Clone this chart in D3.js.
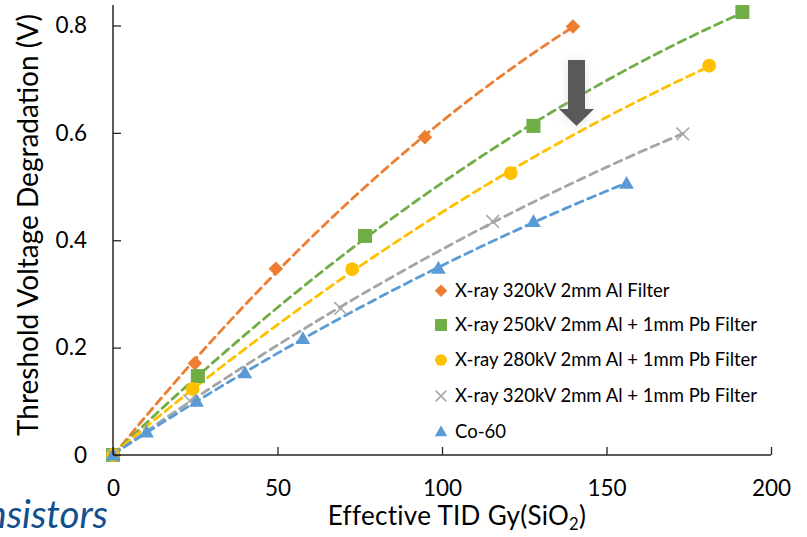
<!DOCTYPE html>
<html>
<head>
<meta charset="utf-8">
<script src="https://cdn.jsdelivr.net/npm/d3@7"></script>
<style>
  html, body { margin: 0; padding: 0; background: #fff; }
  svg { display: block; }
  text { font-family: Lato, "Open Sans", sans-serif; fill: #000; }
</style>
</head>
<body>
<svg id="chart" width="807" height="537"></svg>
<script>
// ---------- data ----------
const seriesNames = [
  "X-ray 320kV 2mm Al Filter",
  "X-ray 250kV 2mm Al + 1mm Pb Filter",
  "X-ray 280kV 2mm Al + 1mm Pb Filter",
  "X-ray 320kV 2mm Al + 1mm Pb Filter",
  "Co-60"
];
const seriesColors = ["#ED7D31", "#70AD47", "#FFC000", "#A5A5A5", "#5B9BD5"];
const seriesMarkers = ["diamond", "square", "circle", "cross", "triangle"];

const doseAl320   = [0, 24.9, 49.5, 94.8, 139.8];
const vthAl320    = [0, 0.171, 0.347, 0.592, 0.798];
const dosePb250   = [0, 25.8, 76.6, 127.8, 191.3];
const vthPb250    = [0, 0.147, 0.408, 0.613, 0.825];
const dosePb280   = [0, 24.2, 72.7, 120.9, 181.2];
const vthPb280    = [0, 0.123, 0.346, 0.525, 0.725];
const dosePb320   = [0, 23.3, 69.2, 115.4, 173.2];
const vthPb320    = [0, 0.101, 0.273, 0.435, 0.598];
const doseCo60    = [0, 10.2, 25.4, 40.1, 57.7, 98.9, 127.8, 156.1];
const vthCo60     = [0, 0.043, 0.100, 0.153, 0.217, 0.348, 0.435, 0.506];

const xTicks = [0, 50, 100, 150, 200];
const yTicks = [0, 0.2, 0.4, 0.6, 0.8];
const xTitle = "Effective TID Gy(SiO";
const yTitle = "Threshold Voltage Degradation (V)";
const cornerText = "Transistors";

const seriesDose = [doseAl320, dosePb250, dosePb280, dosePb320, doseCo60];
const seriesVth  = [vthAl320, vthPb250, vthPb280, vthPb320, vthCo60];

// ---------- scales ----------
const svg = d3.select("#chart");
const x = d3.scaleLinear().domain([0, 200]).range([113, 771]);
const y = d3.scaleLinear().domain([0, 0.84]).range([455, 4]);

// ---------- quadratic trendline (least squares, like Excel poly-2) ----------
function polyFit2(xs, ys) {
  let n = xs.length, s = [0,0,0,0,0], t = [0,0,0];
  for (let i = 0; i < n; i++) {
    let p = 1;
    for (let k = 0; k < 5; k++) { s[k] += p; if (k < 3) t[k] += p * ys[i]; p *= xs[i]; }
  }
  const A = [[s[0], s[1], s[2], t[0]], [s[1], s[2], s[3], t[1]], [s[2], s[3], s[4], t[2]]];
  for (let i = 0; i < 3; i++) {
    let m = i;
    for (let r = i + 1; r < 3; r++) if (Math.abs(A[r][i]) > Math.abs(A[m][i])) m = r;
    [A[i], A[m]] = [A[m], A[i]];
    for (let r = 0; r < 3; r++) if (r !== i) {
      const f = A[r][i] / A[i][i];
      for (let c = i; c < 4; c++) A[r][c] -= f * A[i][c];
    }
  }
  return [A[0][3] / A[0][0], A[1][3] / A[1][1], A[2][3] / A[2][2]];
}

// ---------- arrow shadow filter ----------
const defs = svg.append("defs");
const f = defs.append("filter").attr("id", "glow").attr("x", "-60%").attr("y", "-40%").attr("width", "220%").attr("height", "180%");
f.append("feGaussianBlur").attr("stdDeviation", 5);

// ---------- trendlines ----------
const lineGen = d3.line().x(d => x(d[0])).y(d => y(d[1]));
seriesDose.forEach((xs, si) => {
  const c = polyFit2(xs, seriesVth[si]);
  const xmax = d3.max(xs);
  const pts = d3.range(0, 101).map(i => {
    const xv = xmax * i / 100;
    return [xv, c[0] + c[1] * xv + c[2] * xv * xv];
  });
  svg.append("path")
    .attr("d", lineGen(pts))
    .attr("fill", "none")
    .attr("stroke", seriesColors[si])
    .attr("stroke-width", 2.8)
    .attr("stroke-dasharray", "8,5.5")
    .attr("stroke-linecap", "round");
});

// ---------- markers ----------
function drawMarker(g, type, cx, cy, color, scale) {
  const s = scale || 1;
  if (type === "diamond") {
    const r = 7.3 * s;
    g.append("path").attr("d", `M${cx},${cy - r}L${cx + r},${cy}L${cx},${cy + r}L${cx - r},${cy}Z`).attr("fill", color);
  } else if (type === "square") {
    const h = 7 * s;
    g.append("rect").attr("x", cx - h).attr("y", cy - h).attr("width", 2 * h).attr("height", 2 * h).attr("fill", color);
  } else if (type === "circle") {
    g.append("circle").attr("cx", cx).attr("cy", cy).attr("r", 6.9 * s).attr("fill", color);
  } else if (type === "cross") {
    const h = 6.3 * s;
    g.append("path").attr("d", `M${cx - h},${cy - h}L${cx + h},${cy + h}M${cx - h},${cy + h}L${cx + h},${cy - h}`)
      .attr("stroke", color).attr("stroke-width", 1.5).attr("fill", "none");
  } else if (type === "triangle") {
    const h = 7.3 * s;
    g.append("path").attr("d", `M${cx},${cy - h}L${cx + h},${cy + h * 0.75}L${cx - h},${cy + h * 0.75}Z`).attr("fill", color);
  }
}
const markG = svg.append("g");
seriesDose.forEach((xs, si) => {
  xs.forEach((xv, i) => drawMarker(markG, seriesMarkers[si], x(xv), y(seriesVth[si][i]), seriesColors[si], 1));
});

// ---------- arrow ----------
const arrowG = svg.append("g");
const arrowPath = "M568,60L585,60L585,109L594,109L576.5,126L559,109L568,109Z";
arrowG.append("path").attr("d", arrowPath).attr("fill", "#bfbfbf").attr("opacity", 0.45).attr("filter", "url(#glow)")
  .attr("transform", "translate(0,1)");
arrowG.append("path").attr("d", arrowPath).attr("fill", "#595959");

// ---------- axes ----------
const axisColor = "#262626";
const xAxis = svg.append("g").attr("transform", "translate(0,455)")
  .call(d3.axisBottom(x).tickValues(xTicks).tickSize(-8).tickPadding(18).tickFormat(d3.format("d")));
const yAxis = svg.append("g").attr("transform", "translate(113,0)")
  .call(d3.axisLeft(y).tickValues(yTicks).tickSize(-8).tickPadding(26).tickFormat(d => d === 0 ? "0" : d3.format(".1f")(d)));
[xAxis, yAxis].forEach(a => {
  a.select(".domain").attr("stroke", axisColor).attr("stroke-width", 1.5);
  a.selectAll(".tick line").attr("stroke", axisColor).attr("stroke-width", 1.3);
  a.selectAll(".tick text").attr("font-family", "Lato, sans-serif").attr("font-size", 22.5).attr("fill", "#000");
});
xAxis.select(".domain").attr("d", "M113,0H771");
yAxis.select(".domain").attr("d", "M0,455V5");
xAxis.selectAll(".tick text").attr("dy", "0.71em").attr("y", 25);

// ---------- titles ----------
const xt = svg.append("text").attr("x", 457).attr("y", 525).attr("text-anchor", "middle")
  .attr("font-size", 26).attr("letter-spacing", 0.3);
xt.append("tspan").text(xTitle);
xt.append("tspan").attr("font-size", 16.5).attr("dy", 5).text("2");
xt.append("tspan").attr("dy", -5).text(")");

svg.append("text").attr("transform", "translate(38,225) rotate(-90)").attr("text-anchor", "middle")
  .attr("font-size", 28).text(yTitle);

// ---------- legend ----------
const legendY = [290.7, 325, 360, 396, 431.7];
const legG = svg.append("g");
seriesNames.forEach((name, i) => {
  drawMarker(legG, seriesMarkers[i], 441, legendY[i], seriesColors[i], 0.85);
  legG.append("text").attr("x", 455).attr("y", legendY[i]).attr("dy", "0.35em")
    .attr("font-size", 18.5).text(name);
});

// ---------- clipped corner text ----------
svg.append("text").attr("x", 108).attr("y", 528).attr("text-anchor", "end")
  .attr("font-family", "'Liberation Sans', Arial, sans-serif").attr("font-style", "italic")
  .attr("font-size", 38.5).style("fill", "#114f8e").text(cornerText);
</script>
</body>
</html>
